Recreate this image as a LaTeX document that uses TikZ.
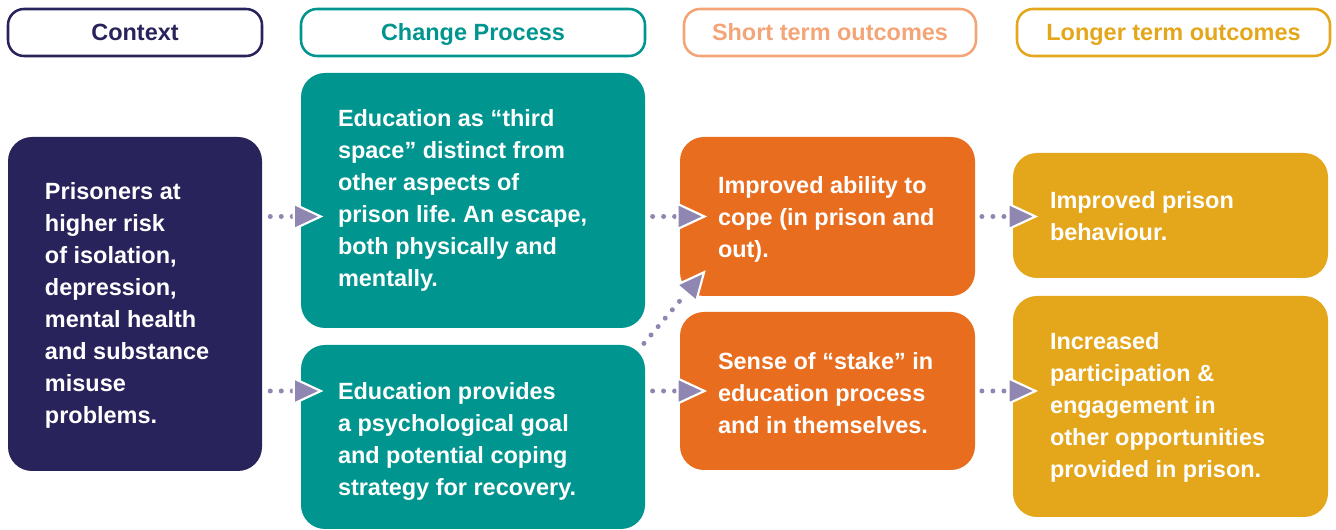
\documentclass[tikz,border=0pt]{standalone}
\usepackage{fontspec}
\setmainfont{Liberation Sans}
\usetikzlibrary{arrows.meta,calc}
\frenchspacing
\definecolor{navy}{HTML}{29235C}
\definecolor{teal}{HTML}{00958F}
\definecolor{orng}{HTML}{E86D1F}
\definecolor{lorng}{HTML}{F3A577}
\definecolor{yell}{HTML}{E4A61A}
\definecolor{lav}{HTML}{8F87B1}
\tikzset{
  hdr/.style={draw=#1, text=#1, line width=1.9pt, rounded corners=12pt, fill=white,
    minimum height=35.25pt, inner sep=0pt, text height=12.5pt, text depth=0pt,
    font=\bfseries\fontsize{17.6}{24}\selectfont},
  body/.style={fill=#1, draw=none, rounded corners=18pt, inner sep=0pt},
  txt/.style={anchor=west, text=white, align=left, inner sep=0pt,
    font=\bfseries\fontsize{17.6}{24}\selectfont},
  conn/.style={draw=lav, line width=3.75pt, line cap=round, dash pattern=on 0pt off 8.25pt,
    -{Triangle[length=23pt,width=21pt,line width=1.6pt,color=white,fill=lav]}},
}
\begin{document}
\begin{tikzpicture}[x=0.75pt,y=-0.75pt]
\useasboundingbox (0,0) rectangle (1336,530);
% headers
\node[hdr=navy, minimum width=190.5pt] (hctx) at (135,32.5) {Context};
\node[hdr=teal, minimum width=258pt] (hchg) at (473,32.5) {Change Process};
\node[hdr=lorng, minimum width=219pt] (hshort) at (830,32.5) {Short term outcomes};
\node[hdr=yell, minimum width=234.75pt] (hlong) at (1173.5,32.5) {Longer term outcomes};
% bodies
\node[body=navy, minimum width=190.5pt, minimum height=250.5pt] (ctx) at (135,304) {};
\node[body=teal, minimum width=258pt, minimum height=191.25pt] (ch1) at (473,200.5) {};
\node[body=teal, minimum width=258pt, minimum height=138pt] (ch2) at (473,437) {};
\node[body=orng, minimum width=221.25pt, minimum height=119.25pt] (s1) at (827.5,216.5) {};
\node[body=orng, minimum width=221.25pt, minimum height=118.5pt] (s2) at (827.5,391) {};
\node[body=yell, minimum width=236.25pt, minimum height=93.75pt] (l1) at (1170.5,215.5) {};
\node[body=yell, minimum width=236.25pt, minimum height=165.75pt] (l2) at (1170.5,406.5) {};
% texts
\node[txt] (tctx) at ([xshift=27.75pt,yshift=-0.75pt]ctx.west)
  {Prisoners at\\ higher risk\\ of isolation,\\ depression,\\ mental health\\ and substance\\ misuse\\ problems.};
\node[txt] (tch1) at ([xshift=27.75pt]ch1.west)
  {Education as “third\\ space” distinct from\\ other aspects of\\ prison life. An escape,\\ both physically and\\ mentally.};
\node[txt] (tch2) at ([xshift=27.75pt,yshift=-3.5pt]ch2.west)
  {Education provides\\ a psychological goal\\ and potential coping\\ strategy for recovery.};
\node[txt] (ts1) at ([xshift=28.5pt,yshift=-2pt]s1.west)
  {Improved ability to\\ cope (in prison and\\ out).};
\node[txt] (ts2) at ([xshift=28.5pt,yshift=-1.5pt]s2.west)
  {Sense of “stake” in\\ education process\\ and in themselves.};
\node[txt] (tl1) at ([xshift=27.75pt,yshift=-0.75pt]l1.west)
  {Improved prison\\ behaviour.};
\node[txt] (tl2) at ([xshift=27.75pt,yshift=-0.75pt]l2.west)
  {Increased\\ participation \&\\ engagement in\\ other opportunities\\ provided in prison.};
% connectors
\draw[conn] ([xshift=6pt]ctx.east |- s1.center) -- ([xshift=17pt]ch1.west |- s1.center);
\draw[conn] ([xshift=6pt]ctx.east |- s2.center) -- ([xshift=17pt]ch2.west |- s2.center);
\draw[conn] ([xshift=5.5pt]ch1.east |- s1.center) -- ([xshift=20.5pt]s1.west);
\draw[conn] ([xshift=5.5pt]ch2.east |- s2.center) -- ([xshift=20.5pt]s2.west);
\draw[conn] ([shift={(-1pt,1pt)}]ch2.north east) -- ([shift={(19.5pt,19.5pt)}]s1.south west);
\draw[conn] ([xshift=5pt]s1.east |- s1.center) -- ([xshift=19pt]l1.west |- s1.center);
\draw[conn] ([xshift=5pt]s2.east) -- ([xshift=19pt]l2.west |- s2.center);
\end{tikzpicture}
\end{document}
